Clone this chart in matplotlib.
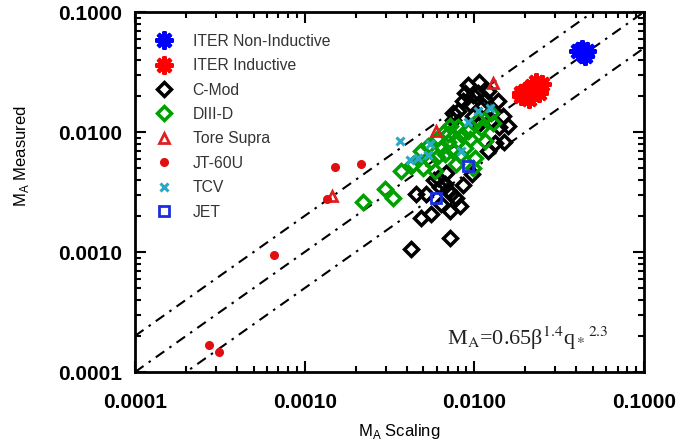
import numpy as np
import matplotlib
matplotlib.use('Agg')
import matplotlib.pyplot as plt
from matplotlib.ticker import FixedLocator, FuncFormatter, LogLocator, NullFormatter

plt.rcParams['font.family'] = ['Liberation Sans', 'DejaVu Sans']
plt.rcParams['mathtext.fontset'] = 'custom'
plt.rcParams['mathtext.rm'] = 'Liberation Sans'

# values (MA scaling, MA measured)
cmod_x = [9.2e-3, 0.0106, 0.0121, 9.87e-3, 8.6e-3, 0.0138, 0.0113, 0.0129, 0.0148, 8.05e-3,
          9.87e-3, 7.52e-3, 0.0158, 0.0133, 0.0121, 0.0105, 0.0115, 0.0095, 0.0088, 0.0125,
          0.0140, 0.0105, 7.5e-3, 0.0150,
          4.56e-3, 5.22e-3, 4.88e-3, 5.58e-3, 7.23e-3, 8.28e-3, 6.4e-3, 7.23e-3, 4.26e-3, 6.75e-3,
          6.14e-3, 7.33e-3, 7.0e-3, 6.3e-3, 5.8e-3, 7.8e-3, 6.8e-3, 8.6e-3, 9.7e-3]
cmod_y = [0.0245, 0.026, 0.0222, 0.0202, 0.0183, 0.0183, 0.0166, 0.0151, 0.0137, 0.0151,
          0.0137, 0.0125, 0.0113, 8.15e-3, 6.98e-3, 0.021, 0.019, 0.017, 0.021, 0.0125,
          0.0110, 0.0115, 0.0144, 8.2e-3,
          3.05e-3, 3.05e-3, 1.92e-3, 2.07e-3, 2.19e-3, 2.42e-3, 2.51e-3, 1.30e-3, 1.07e-3, 3.69e-3,
          4.15e-3, 3.05e-3, 3.3e-3, 3.5e-3, 4.0e-3, 2.8e-3, 4.6e-3, 3.6e-3, 4.5e-3]

d3d_x = [2.2e-3, 2.99e-3, 3.34e-3, 3.72e-3, 4.38e-3, 4.26e-3, 4.88e-3, 5.58e-3, 6.14e-3, 7.03e-3,
         8.05e-3, 8.85e-3, 6.75e-3, 5.9e-3, 0.0101, 0.0116, 0.0129, 0.011, 7.23e-3, 7.83e-3,
         9.87e-3, 9.2e-3, 5.36e-3, 6.5e-3, 7.5e-3, 8.5e-3, 0.0105, 0.0125, 6.0e-3, 5.0e-3, 8.0e-3,
         7.0e-3, 8.2e-3, 9.5e-3, 6.6e-3]
d3d_y = [2.6e-3, 3.36e-3, 2.82e-3, 4.74e-3, 5.43e-3, 5.23e-3, 6.98e-3, 5.75e-3, 8.97e-3, 9.7e-3,
         8.47e-3, 7.4e-3, 6.59e-3, 4.74e-3, 6.1e-3, 8.47e-3, 0.0118, 0.0109, 0.0113, 5.43e-3,
         5.04e-3, 0.0103, 7.69e-3, 7.5e-3, 7.0e-3, 9.5e-3, 0.0125, 0.0145, 6.2e-3, 5.0e-3, 0.011,
         8.3e-3, 6.4e-3, 0.0088, 0.0100]

tcv_x = [3.67e-3, 0.0124, 9.2e-3, 5.36e-3, 4.69e-3, 5.5e-3, 8.4e-3, 0.0105, 4.2e-3]
tcv_y = [8.47e-3, 0.0158, 0.0121, 6.46e-3, 6.1e-3, 8.0e-3, 6.98e-3, 0.0150, 5.8e-3]

jet_x = [9.2e-3, 5.98e-3]
jet_y = [5.23e-3, 2.82e-3]

ts_x = [1.45e-3, 5.98e-3, 0.0129]
ts_y = [2.95e-3, 0.0103, 0.0255]

jt_x = [2.72e-4, 3.12e-4, 6.57e-4, 1.52e-3, 2.16e-3, 1.35e-3]
jt_y = [1.68e-4, 1.47e-4, 9.4e-4, 5.13e-3, 5.43e-3, 2.75e-3]

iter_ni_x = [0.041, 0.044, 0.046, 0.043, 0.045]
iter_ni_y = [0.047, 0.045, 0.047, 0.049, 0.043]

iter_ind_x = [0.019, 0.020, 0.021, 0.022, 0.023, 0.024, 0.025, 0.019, 0.021, 0.024]
iter_ind_y = [0.020, 0.022, 0.019, 0.024, 0.026, 0.023, 0.025, 0.021, 0.023, 0.021]

line_factors = [2.0, 1.0, 0.5]
axis_range = [1e-4, 0.1]
tick_vals = [1e-4, 1e-3, 1e-2, 1e-1]

fig = plt.figure(figsize=(6.82, 4.48), dpi=100)
ax = fig.add_axes([0.198, 0.1696, 0.746, 0.8034])
ax.set_xscale('log')
ax.set_yscale('log')

xr = np.array(axis_range)
for f in line_factors:
    ax.plot(xr, f * xr, color='black', lw=1.5, dashes=(5, 3, 1.2, 3), zorder=1)

h_cmod, = ax.plot(cmod_x, cmod_y, ls='none', marker='D', ms=7, mfc='none', mec='black', mew=2.5, label='C-Mod')
h_d3d, = ax.plot(d3d_x, d3d_y, ls='none', marker='D', ms=7, mfc='none', mec='#00a000', mew=2.5, label='DIII-D')
h_tcv, = ax.plot(tcv_x, tcv_y, ls='none', marker='x', ms=6, mec='#2aa8c8', mew=2.2, label='TCV')
h_jet, = ax.plot(jet_x, jet_y, ls='none', marker='s', ms=6.5, mfc='none', mec='#1a2ee0', mew=2, label='JET')
h_ts, = ax.plot(ts_x, ts_y, ls='none', marker='^', ms=7, mfc='none', mec='#e02020', mew=2, label='Tore Supra')
h_jt, = ax.plot(jt_x, jt_y, ls='none', marker='o', ms=5.5, mfc='#e01010', mec='#e01010', label='JT-60U')
h_ni, = ax.plot(iter_ni_x, iter_ni_y, ls='none', marker=(8, 2, 0), ms=13, mec='#0000ff', mew=3, label='ITER Non-Inductive')
h_ind, = ax.plot(iter_ind_x, iter_ind_y, ls='none', marker=(8, 2, 0), ms=13, mec='#ff0000', mew=3, label='ITER Inductive')

handles = [h_ni, h_ind, h_cmod, h_d3d, h_ts, h_jt, h_tcv, h_jet]
leg = ax.legend(handles=handles, loc='upper left', bbox_to_anchor=(0.042, 0.94), frameon=False,
                fontsize=11.3, handlelength=1.0, handletextpad=1.3, labelspacing=0.6,
                borderpad=0, borderaxespad=0, numpoints=1)
for t in leg.get_texts():
    t.set_color('#333333')

ax.set_xlim(axis_range)
ax.set_ylim(axis_range)
fmt = FuncFormatter(lambda v, p: '%.4f' % v)
for axis in (ax.xaxis, ax.yaxis):
    axis.set_major_locator(FixedLocator(tick_vals))
    axis.set_major_formatter(fmt)
    axis.set_minor_locator(LogLocator(base=10, subs=np.arange(2, 10)))
    axis.set_minor_formatter(NullFormatter())
ax.tick_params(which='both', direction='in', top=True, right=True, width=1.5)
ax.tick_params(which='major', length=8, labelsize=15)
ax.tick_params(which='minor', length=4)
ax.tick_params(axis='x', which='major', pad=15)
ax.tick_params(axis='y', which='major', pad=9)
for lab in ax.get_xticklabels() + ax.get_yticklabels():
    lab.set_fontweight('bold')
for s in ax.spines.values():
    s.set_linewidth(2)

ax.set_xlabel(r'M$_\mathrm{A}$ Scaling', fontsize=12)
ax.set_ylabel(r'M$_\mathrm{A}$ Measured', fontsize=12)
ax.xaxis.set_label_coords(0.52, -0.14)
ax.yaxis.set_label_coords(-0.205, 0.6)

ax.text(0.93, 0.075, 'M$_\\mathrm{A}$=0.65\u03b2$^\\mathrm{1.4}$q$_*$$^\\mathrm{2.3}$', transform=ax.transAxes,
        ha='right', va='baseline', fontsize=16, family='Liberation Serif',
        math_fontfamily='stix', color='#222222')

fig.savefig('out.png', dpi=100)
